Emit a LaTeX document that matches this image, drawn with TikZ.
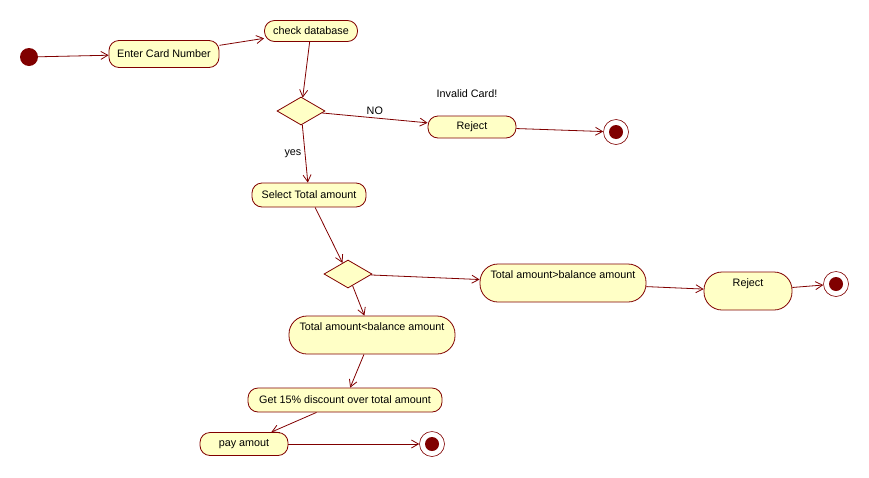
\documentclass[tikz,border=0pt]{standalone}
\usepackage{fontspec}
\setmainfont{Liberation Sans}
\usepackage{xcolor}
\usetikzlibrary{shapes.geometric,arrows.meta}
\definecolor{umlred}{RGB}{128,0,0}
\definecolor{umlfill}{RGB}{255,255,198}

\begin{document}
\begin{tikzpicture}[x=1pt,y=-1pt,font=\fontsize{10.8}{13}\selectfont]
	\tikzstyle{act} = [draw=umlred, fill=umlfill, line width=0.8pt, rounded corners=10pt, minimum height=23pt, inner sep=2pt]
	\tikzstyle{tallact} = [act, rounded corners=18pt, minimum height=38pt, text height=11pt, text depth=21pt, inner sep=3pt]
	\tikzstyle{choice} = [diamond, draw=umlred, fill=umlfill, line width=0.8pt, inner sep=0pt, minimum width=48pt, minimum height=28pt]
	\tikzstyle{start} = [circle, fill=umlred, minimum size=18pt, inner sep=0pt]
	\tikzstyle{stop} = [circle, draw=umlred, fill=white, line width=0.6pt, minimum size=25pt, inner sep=0pt,
		path picture={\fill[umlred] (path picture bounding box.center) circle (7pt);}]
	\tikzstyle{flow} = [draw=umlred, line width=0.8pt, -{Straight Barb[length=7pt,width=8pt]}]
	\useasboundingbox (0,0) rectangle (869,477);

		\node[start] (init) at (29,57) {};
		\node[act, minimum width=110pt, minimum height=27pt] (card) at (164,54) {Enter Card Number};
		\node[act, minimum width=93pt, minimum height=21pt] (check) at (311,31) {check database};
		\node[choice] (valid) at (301,111) {};
		\node[act, minimum width=88pt, minimum height=22pt] (reject) at (472,127) {Reject};
		\node (invalid) at (467,94) {Invalid Card!};
		\node[stop] (end) at (616,132) {};
		\node[act, minimum width=114pt, minimum height=24pt] (select) at (309,195) {Select Total amount};
		\node[choice] (compare) at (348,274) {};
		\node[tallact, minimum width=166pt] (more) at (563,283) {Total amount>balance amount};
		\node[tallact, minimum width=88pt] (rejectb) at (748,291) {Reject};
		\node[stop] (endb) at (836,284) {};
		\node[tallact, minimum width=166pt] (less) at (372,335) {Total amount<balance amount};
		\node[act, minimum width=194pt, minimum height=24pt] (discount) at (345,400) {Get 15\% discount over total amount};
		\node[act, minimum width=88pt, minimum height=23pt] (pay) at (244,444) {pay amout};
		\node[stop] (endc) at (432,444) {};

		\draw[flow] (init) -- (card);
		\draw[flow] (card) -- (check);
		\draw[flow] (check) -- (valid);
		\draw[flow] (valid) -- node[above] (no) {NO} (reject);
		\draw[flow] (reject) -- (end);
		\draw[flow] (valid) -- node[left] (yes) {yes} (select);
		\draw[flow] (select) -- (compare);
		\draw[flow] (compare) -- (more);
		\draw[flow] (more) -- (rejectb);
		\draw[flow] (rejectb) -- (endb);
		\draw[flow] (compare) -- (less);
		\draw[flow] (less) -- (discount);
		\draw[flow] (discount) -- (pay);
		\draw[flow] (pay) -- (endc);
\end{tikzpicture}
\end{document}
